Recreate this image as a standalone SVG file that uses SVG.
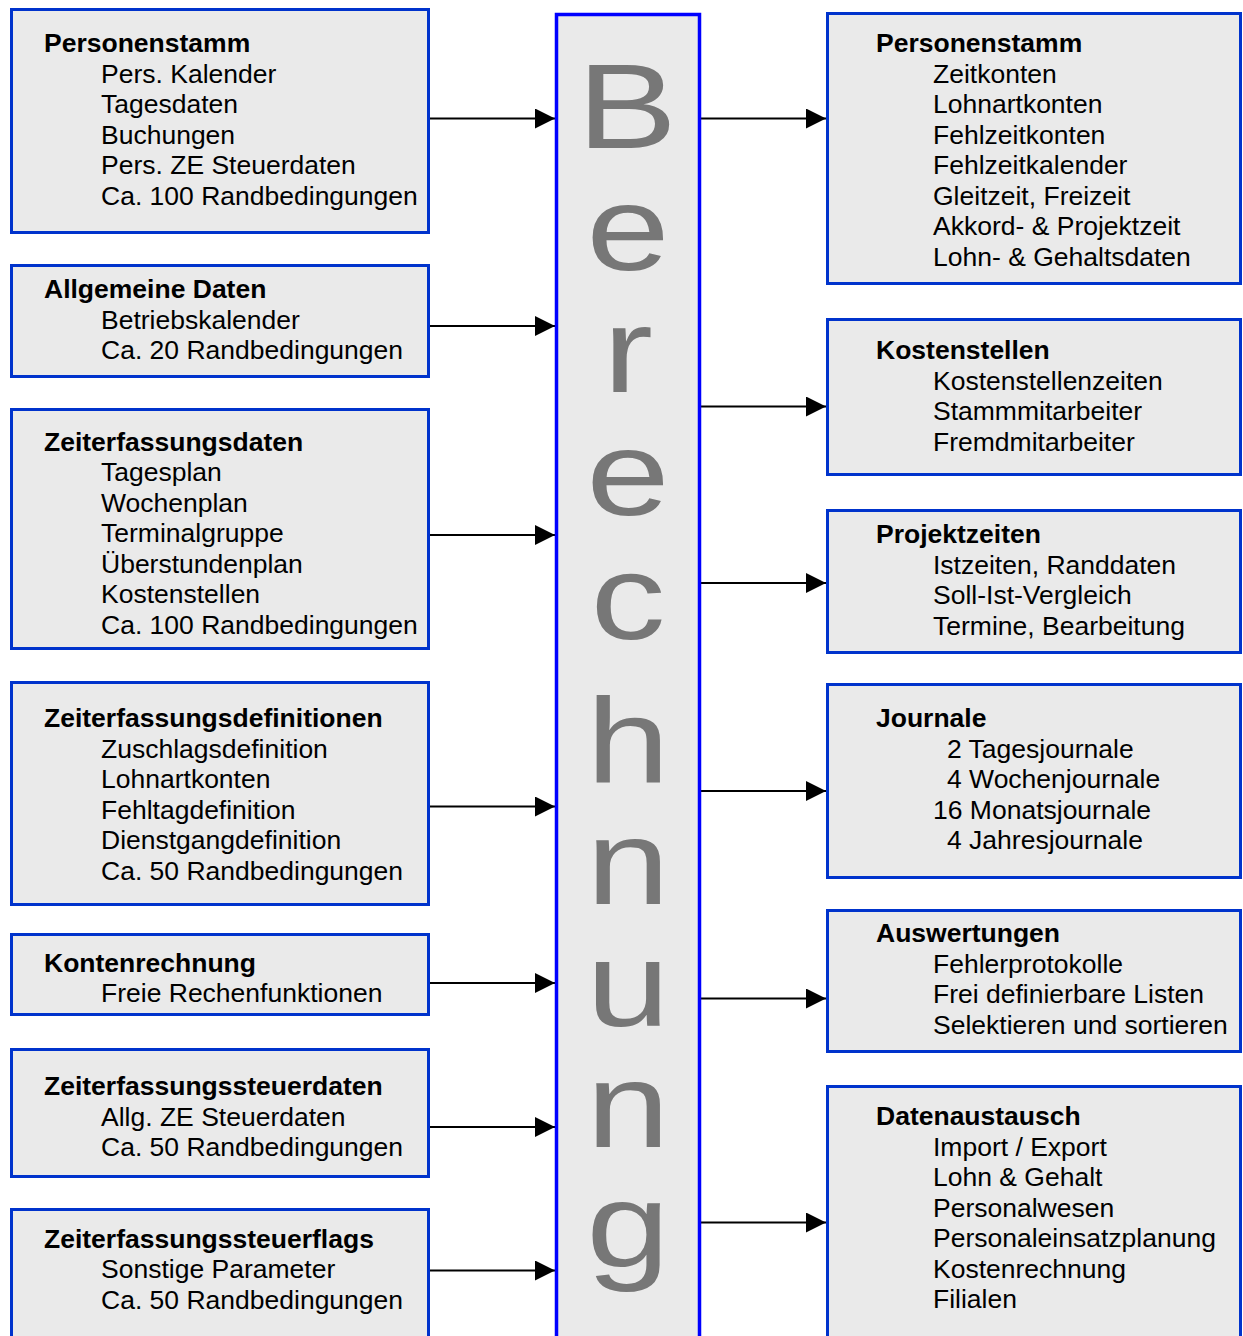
<svg xmlns="http://www.w3.org/2000/svg" width="1243" height="1336" viewBox="0 0 1243 1336">
<style>
.box{fill:#eaeaea;stroke:#0033cc;stroke-width:3}
.center{fill:#eaeaea;stroke:#0000ff;stroke-width:3.5}
.t{font-family:"Liberation Sans",Arial,sans-serif;font-size:26.5px;fill:#000}
.b{font-weight:bold}
.big{font-family:"Liberation Sans",Arial,sans-serif;font-size:120px;fill:#777777;text-anchor:middle}
.con{stroke:#000;stroke-width:2;fill:none;marker-end:url(#arr)}
</style>
<defs>
<marker id="arr" markerUnits="userSpaceOnUse" markerWidth="20" markerHeight="20" refX="20" refY="10" orient="auto" viewBox="0 0 20 20">
<path d="M0,0 L20,10 L0,20 z" fill="#000"/>
</marker>
</defs>
<rect width="1243" height="1336" fill="#fff"/>
<g id="connectors">
<line class="con" x1="430" y1="118.5" x2="555" y2="118.5"/>
<line class="con" x1="430" y1="326" x2="555" y2="326"/>
<line class="con" x1="430" y1="535" x2="555" y2="535"/>
<line class="con" x1="430" y1="806.5" x2="555" y2="806.5"/>
<line class="con" x1="430" y1="983" x2="555" y2="983"/>
<line class="con" x1="430" y1="1127" x2="555" y2="1127"/>
<line class="con" x1="430" y1="1270.5" x2="555" y2="1270.5"/>
<line class="con" x1="701" y1="118.5" x2="826" y2="118.5"/>
<line class="con" x1="701" y1="406.5" x2="826" y2="406.5"/>
<line class="con" x1="701" y1="583" x2="826" y2="583"/>
<line class="con" x1="701" y1="791" x2="826" y2="791"/>
<line class="con" x1="701" y1="998.5" x2="826" y2="998.5"/>
<line class="con" x1="701" y1="1222.5" x2="826" y2="1222.5"/>
</g>
<g id="berechnung">
<rect class="center" x="556.5" y="14.5" width="143" height="1330"/>
<text class="big" transform="translate(627,148) scale(1.25,1)">B</text>
<text class="big" transform="translate(628,270) scale(1.25,1)">e</text>
<text class="big" transform="translate(628,392) scale(1.25,1)">r</text>
<text class="big" transform="translate(628,515) scale(1.25,1)">e</text>
<text class="big" transform="translate(628,639) scale(1.25,1)">c</text>
<text class="big" transform="translate(628,782) scale(1.25,1)">h</text>
<text class="big" transform="translate(628,904) scale(1.25,1)">n</text>
<text class="big" transform="translate(628,1026) scale(1.25,1)">u</text>
<text class="big" transform="translate(628,1147) scale(1.25,1)">n</text>
<text class="big" transform="translate(628,1267) scale(1.25,1)">g</text>
</g>
<g id="l-personenstamm">
<rect class="box" x="11.5" y="9.5" width="417" height="223"/>
<text class="t b" x="44" y="52">Personenstamm</text>
<text class="t" x="101" y="82.5">Pers. Kalender</text>
<text class="t" x="101" y="113">Tagesdaten</text>
<text class="t" x="101" y="143.5">Buchungen</text>
<text class="t" x="101" y="174">Pers. ZE Steuerdaten</text>
<text class="t" x="101" y="204.5">Ca. 100 Randbedingungen</text>
</g>
<g id="l-allgemeine">
<rect class="box" x="11.5" y="265.5" width="417" height="111"/>
<text class="t b" x="44" y="298">Allgemeine Daten</text>
<text class="t" x="101" y="328.5">Betriebskalender</text>
<text class="t" x="101" y="359">Ca. 20 Randbedingungen</text>
</g>
<g id="l-zeiterfassungsdaten">
<rect class="box" x="11.5" y="409.5" width="417" height="239"/>
<text class="t b" x="44" y="450.5">Zeiterfassungsdaten</text>
<text class="t" x="101" y="481">Tagesplan</text>
<text class="t" x="101" y="511.5">Wochenplan</text>
<text class="t" x="101" y="542">Terminalgruppe</text>
<text class="t" x="101" y="572.5">Überstundenplan</text>
<text class="t" x="101" y="603">Kostenstellen</text>
<text class="t" x="101" y="633.5">Ca. 100 Randbedingungen</text>
</g>
<g id="l-definitionen">
<rect class="box" x="11.5" y="682.5" width="417" height="222"/>
<text class="t b" x="44" y="727">Zeiterfassungsdefinitionen</text>
<text class="t" x="101" y="757.5">Zuschlagsdefinition</text>
<text class="t" x="101" y="788">Lohnartkonten</text>
<text class="t" x="101" y="818.5">Fehltagdefinition</text>
<text class="t" x="101" y="849">Dienstgangdefinition</text>
<text class="t" x="101" y="879.5">Ca. 50 Randbedingungen</text>
</g>
<g id="l-kontenrechnung">
<rect class="box" x="11.5" y="934.5" width="417" height="80"/>
<text class="t b" x="44" y="971.5">Kontenrechnung</text>
<text class="t" x="101" y="1002">Freie Rechenfunktionen</text>
</g>
<g id="l-steuerdaten">
<rect class="box" x="11.5" y="1049.5" width="417" height="127"/>
<text class="t b" x="44" y="1095">Zeiterfassungssteuerdaten</text>
<text class="t" x="101" y="1125.5">Allg. ZE Steuerdaten</text>
<text class="t" x="101" y="1156">Ca. 50 Randbedingungen</text>
</g>
<g id="l-steuerflags">
<rect class="box" x="11.5" y="1209.5" width="417" height="135"/>
<text class="t b" x="44" y="1247.5">Zeiterfassungssteuerflags</text>
<text class="t" x="101" y="1278">Sonstige Parameter</text>
<text class="t" x="101" y="1308.5">Ca. 50 Randbedingungen</text>
</g>
<g id="r-personenstamm">
<rect class="box" x="827.5" y="13.5" width="413" height="270"/>
<text class="t b" x="876" y="52">Personenstamm</text>
<text class="t" x="933" y="82.5">Zeitkonten</text>
<text class="t" x="933" y="113">Lohnartkonten</text>
<text class="t" x="933" y="143.5">Fehlzeitkonten</text>
<text class="t" x="933" y="174">Fehlzeitkalender</text>
<text class="t" x="933" y="204.5">Gleitzeit, Freizeit</text>
<text class="t" x="933" y="235">Akkord- &amp; Projektzeit</text>
<text class="t" x="933" y="265.5">Lohn- &amp; Gehaltsdaten</text>
</g>
<g id="r-kostenstellen">
<rect class="box" x="827.5" y="319.5" width="413" height="155"/>
<text class="t b" x="876" y="359">Kostenstellen</text>
<text class="t" x="933" y="389.5">Kostenstellenzeiten</text>
<text class="t" x="933" y="420">Stammmitarbeiter</text>
<text class="t" x="933" y="450.5">Fremdmitarbeiter</text>
</g>
<g id="r-projektzeiten">
<rect class="box" x="827.5" y="510.5" width="413" height="142"/>
<text class="t b" x="876" y="543">Projektzeiten</text>
<text class="t" x="933" y="573.5">Istzeiten, Randdaten</text>
<text class="t" x="933" y="604">Soll-Ist-Vergleich</text>
<text class="t" x="933" y="634.5">Termine, Bearbeitung</text>
</g>
<g id="r-journale">
<rect class="box" x="827.5" y="684.5" width="413" height="193"/>
<text class="t b" x="876" y="727">Journale</text>
<text class="t" x="947" y="757.5">2 Tagesjournale</text>
<text class="t" x="947" y="788">4 Wochenjournale</text>
<text class="t" x="933" y="818.5">16 Monatsjournale</text>
<text class="t" x="947" y="849">4 Jahresjournale</text>
</g>
<g id="r-auswertungen">
<rect class="box" x="827.5" y="910.5" width="413" height="141"/>
<text class="t b" x="876" y="942">Auswertungen</text>
<text class="t" x="933" y="972.5">Fehlerprotokolle</text>
<text class="t" x="933" y="1003">Frei definierbare Listen</text>
<text class="t" x="933" y="1033.5">Selektieren und sortieren</text>
</g>
<g id="r-datenaustausch">
<rect class="box" x="827.5" y="1086.5" width="413" height="260"/>
<text class="t b" x="876" y="1125">Datenaustausch</text>
<text class="t" x="933" y="1155.5">Import / Export</text>
<text class="t" x="933" y="1186">Lohn &amp; Gehalt</text>
<text class="t" x="933" y="1216.5">Personalwesen</text>
<text class="t" x="933" y="1247">Personaleinsatzplanung</text>
<text class="t" x="933" y="1277.5">Kostenrechnung</text>
<text class="t" x="933" y="1308">Filialen</text>
</g>
</svg>
